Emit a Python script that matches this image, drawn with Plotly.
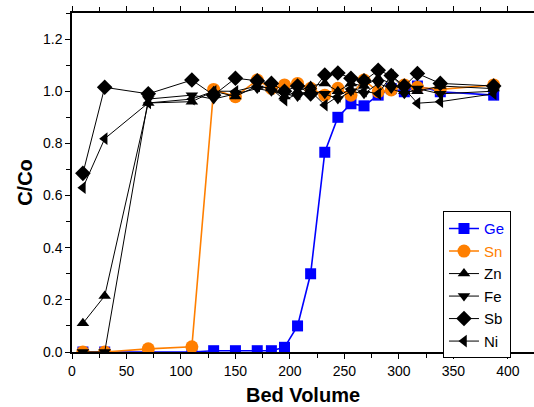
import plotly.graph_objects as go

bed_volume = [10, 30, 70, 110, 130, 150, 170, 183, 195, 207, 219, 232, 244, 256, 268, 281, 293, 305, 317, 338, 387]

ge = [0.0, 0.0, 0.0, 0.0, 0.005, 0.005, 0.005, 0.005, 0.018, 0.10, 0.30, 0.766, 0.90, 0.952, 0.944, 0.985, 1.01, 0.998, 1.02, 0.998, 0.985]
sn = [0.0, 0.0, 0.012, 0.02, 1.007, 0.979, 1.043, 1.011, 1.024, 1.030, 1.011, 0.985, 1.011, 0.985, 1.043, 0.998, 1.005, 1.024, 1.015, 1.007, 1.024]
zn = [0.11, 0.215, 0.955, 0.96, 1.0, 0.98, 1.02, 1.01, 0.98, 1.0, 1.02, 1.03, 1.0, 1.03, 1.02, 1.05, 1.03, 1.0, 1.0, 1.02, 1.01]
fe = [0.0, 0.0, 0.97, 0.985, 0.97, 0.99, 1.01, 1.0, 0.99, 0.98, 1.0, 0.99, 0.97, 1.0, 0.99, 1.03, 1.01, 0.99, 1.01, 0.99, 1.0]
sb = [0.685, 1.015, 0.99, 1.043, 0.985, 1.05, 1.04, 1.03, 1.0, 1.02, 0.99, 1.062, 1.07, 1.05, 1.04, 1.08, 1.06, 1.02, 1.068, 1.03, 1.02]
ni = [0.63, 0.818, 0.955, 0.97, 1.0, 1.0, 1.02, 1.01, 0.966, 0.99, 1.0, 0.947, 0.98, 1.01, 1.0, 0.99, 1.06, 1.01, 0.954, 0.96, 0.99]

series = [
    ("Ge", ge, "#0000ff", "square", 11, 1.6),
    ("Sn", sn, "#ff7f00", "circle", 13, 1.6),
    ("Zn", zn, "#000000", "triangle-up", 11, 1.0),
    ("Fe", fe, "#000000", "triangle-down", 11, 1.0),
    ("Sb", sb, "#000000", "diamond", 12, 1.0),
    ("Ni", ni, "#000000", "triangle-left", 11, 1.0),
]

fig = go.Figure()
for name, vals, color, sym, size, lw in series:
    fig.add_trace(go.Scatter(
        x=bed_volume, y=vals, mode="lines+markers",
        name=f"<span style='color:{color}'>{name}</span>",
        line=dict(color=color, width=lw),
        marker=dict(symbol=sym, size=size, color=color, line=dict(width=0)),
    ))

FONT = "Liberation Sans, Arial, sans-serif"
axis_font = dict(family=FONT, size=14, color="black")

fig.update_layout(
    width=534, height=407,
    margin=dict(l=72, r=0, t=13, b=55),
    paper_bgcolor="white", plot_bgcolor="white",
    font=axis_font,
    showlegend=True,
    legend=dict(
        x=0.803, y=0.415, xanchor="left", yanchor="top",
        bordercolor="black", borderwidth=1, bgcolor="white",
        font=dict(family=FONT, size=15, color="black"),
        tracegroupgap=0, itemwidth=30,
    ),
    xaxis=dict(
        range=[0, 424], tickmode="linear", tick0=0, dtick=50,
        showgrid=False, zeroline=False,
        showline=True, linecolor="black", linewidth=1.5,
        mirror="allticks",
        ticks="outside", ticklen=5, tickwidth=1, tickcolor="black",
        minor=dict(dtick=25, ticks="outside", ticklen=4, tickcolor="black"),
        tickfont=axis_font,
        title=dict(text="<b>Bed Volume</b>", font=dict(family=FONT, size=20, color="black"), standoff=10),
    ),
    yaxis=dict(
        range=[0, 1.3], tickmode="linear", tick0=0, dtick=0.2, tickformat=".1f",
        showgrid=False, zeroline=False,
        showline=True, linecolor="black", linewidth=1.5,
        ticks="outside", ticklen=5, tickwidth=1, tickcolor="black",
        minor=dict(dtick=0.1, ticks="outside", ticklen=4, tickcolor="black"),
        tickfont=axis_font,
        title=dict(text="<b>C/Co</b>", font=dict(family=FONT, size=20, color="black"), standoff=5),
    ),
)

fig.write_html("out.html")
